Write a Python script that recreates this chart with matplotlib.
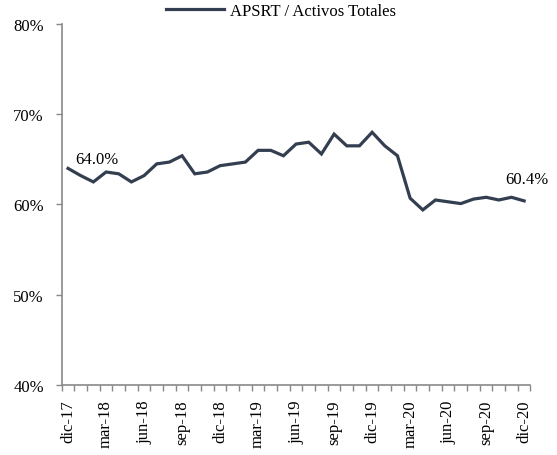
import matplotlib

matplotlib.use("Agg")
import matplotlib.pyplot as plt
from matplotlib.ticker import FixedLocator, FuncFormatter

plt.rcParams["font.family"] = ["Liberation Serif", "DejaVu Serif"]

NAVY = "#333F50"
GRAY = "#898989"

# monthly ratio, dic-17 .. dic-20 (percent)
months = [
    "dic-17", "ene-18", "feb-18", "mar-18", "abr-18", "may-18", "jun-18",
    "jul-18", "ago-18", "sep-18", "oct-18", "nov-18", "dic-18",
    "ene-19", "feb-19", "mar-19", "abr-19", "may-19", "jun-19",
    "jul-19", "ago-19", "sep-19", "oct-19", "nov-19", "dic-19",
    "ene-20", "feb-20", "mar-20", "abr-20", "may-20", "jun-20",
    "jul-20", "ago-20", "sep-20", "oct-20", "nov-20", "dic-20",
]
apsrt = [
    64.0, 63.2, 62.5, 63.6, 63.4, 62.5, 63.2,
    64.5, 64.7, 65.4, 63.4, 63.6, 64.3,
    64.5, 64.7, 66.0, 66.0, 65.4, 66.7,
    66.9, 65.6, 67.8, 66.5, 66.5, 68.0,
    66.5, 65.4, 60.7, 59.4, 60.5, 60.3,
    60.1, 60.6, 60.8, 60.5, 60.8, 60.4,
]
label_every = 3

fig = plt.figure(figsize=(5.57, 4.56), dpi=100)
ax = fig.add_axes([0.1108, 0.1535, 0.8416, 0.7917])

x = list(range(len(months)))
line, = ax.plot(x, apsrt, color=NAVY, lw=2.3, solid_joinstyle="miter",
                label="APSRT / Activos Totales")

ax.set_xlim(-0.5, len(months) - 0.5)
ax.set_ylim(40, 80)
ax.set_yticks([40, 50, 60, 70, 80])
ax.yaxis.set_major_formatter(FuncFormatter(lambda v, _: "{:.0f}%".format(v)))

ax.set_xticks(x[::label_every])
ax.set_xticklabels(months[::label_every], rotation=90)
ax.xaxis.set_minor_locator(FixedLocator([i - 0.5 for i in range(len(months) + 1)]))
ax.tick_params(axis="x", which="major", length=0, pad=10.5, labelsize=12)
ax.tick_params(axis="x", which="minor", length=4.3, width=1, color=GRAY)
ax.tick_params(axis="y", length=4.3, width=1, color=GRAY, pad=8.5, labelsize=12)

ax.spines[["top", "right"]].set_visible(False)
for s in ("left", "bottom"):
    ax.spines[s].set_color(GRAY)
    ax.spines[s].set_linewidth(1.2)

ax.annotate("{:.1f}%".format(apsrt[0]), (x[0], apsrt[0]), xytext=(5, 7),
            textcoords="offset points", ha="left", va="center", fontsize=12)
ax.annotate("{:.1f}%".format(apsrt[-1]), (x[-1], apsrt[-1]), xytext=(2, 15.5),
            textcoords="offset points", ha="center", va="center", fontsize=12,
            annotation_clip=False)

fig.legend(handles=[line], loc="center", bbox_to_anchor=(281 / 557, 1 - 12 / 456),
           frameon=False, fontsize=12, handlelength=3.5, handletextpad=0.4,
           borderpad=0, borderaxespad=0)

fig.savefig("out.png", dpi=100)
